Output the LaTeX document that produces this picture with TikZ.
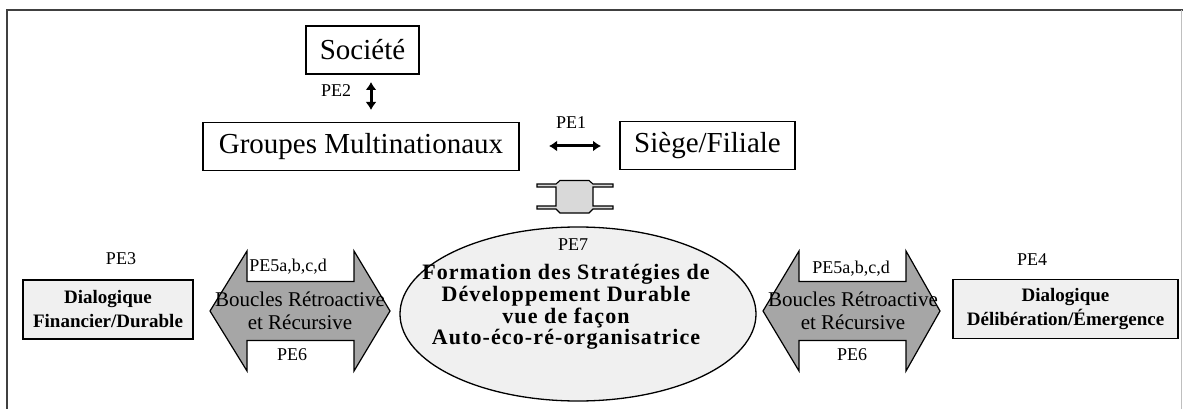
\documentclass[tikz,border=0pt]{standalone}
\usepackage{fontspec}
\setmainfont{Liberation Serif}
\usetikzlibrary{arrows.meta,shapes.geometric}
\begin{document}
\begin{tikzpicture}[x=1pt,y=-1pt,
  frame/.style={draw=black!75,line width=1.6pt},
  bigbox/.style={draw,line width=1.3pt,inner sep=0pt,minimum height=48pt,font=\fontsize{29}{32}\selectfont},
  dlgbox/.style={draw,line width=1.3pt,fill=black!6,inner sep=0pt,minimum height=59pt,align=center,font=\bfseries\fontsize{19}{24}\selectfont},
  tag/.style={inner sep=0pt,font=\fontsize{18}{20}\selectfont},
  loopshape/.style={draw,line width=1.2pt,fill=black!35},
  looptext/.style={inner sep=0pt,align=center,font=\fontsize{21}{23}\selectfont},
  biarrow/.style={line width=3pt,{Latex[length=8pt,width=11pt]}-{Latex[length=8pt,width=11pt]}},
]
\useasboundingbox (0,0) rectangle (1183,409);
\fill[white] (0,0) rectangle (1183,409);
% outer frame
\draw[frame] (7,409) -- (7,10) -- (1183,10);
\draw[black!25,line width=1pt] (1181.5,10) -- (1181.5,409);

% upper boxes
\node[bigbox,minimum width=113pt] (soc) at (362.5,50) {Société};
\node[bigbox,minimum width=316pt] (grp) at (361,146.5) {Groupes Multinationaux};
\node[bigbox,minimum width=175pt] (sf) at (707.5,145.5) {Siège/Filiale};

% PE2 link between Société and the groups
\coordinate (p2a) at (371,82);
\coordinate (p2b) at (371,110);
\draw[biarrow] (p2a) -- (p2b);
\node[tag] (pe2) at (336,91) {PE2};

% PE1 link between groups and head office / subsidiary
\coordinate (p1a) at (549,146);
\coordinate (p1b) at (601,146);
\draw[biarrow] (p1a) -- (p1b);
\node[tag] (pe1) at (571,123) {PE1};

% spool-shaped junction above the ellipse
\draw[line width=1.1pt,fill=black!15]
  (537,184) -- (556,184) -- (560,180.5) -- (589,180.5) -- (593,184) -- (613,184)
  -- (613,187) -- (593,187) -- (593,206) -- (613,206) -- (613,209) -- (593,209)
  -- (589,213) -- (560,213) -- (556,209) -- (537,209) -- (537,206) -- (556,206)
  -- (556,187) -- (537,187) -- cycle;

% central ellipse
\node[ellipse,draw,line width=1.3pt,fill=black!6,minimum width=356pt,minimum height=174pt,inner sep=0pt] (form) at (578,314) {};
\node[tag] (pe7) at (573,245) {PE7};
\node[inner sep=0pt,align=center,font=\bfseries\fontsize{22}{21.7}\selectfont\addfontfeature{LetterSpace=5}] (formtxt) at (566,307)
  {Formation des Stratégies de\\Développement Durable\\vue de façon\\Auto-éco-ré-organisatrice};

% dialogic boxes
\node[dlgbox,minimum width=170pt] (fin) at (108,309.5) {Dialogique\\Financier/Durable};
\node[tag] (pe3) at (121,259) {PE3};
\node[dlgbox,minimum width=225pt] (del) at (1065.5,309) {Dialogique\\Délibération/Émergence};
\node[tag] (pe4) at (1032,260) {PE4};

% left feedback double arrow
\draw[loopshape] (210,311) -- (247,251) -- (247,281.5) -- (354,281.5) -- (354,251)
  -- (390,311) -- (354,371) -- (354,340.5) -- (247,340.5) -- (247,371) -- cycle;
\node[looptext] (lpl) at (300,311) {Boucles Rétroactive\\et Récursive};
\node[tag] (pe5l) at (288,267) {PE5a,b,c,d};
\node[tag] (pe6l) at (292,355) {PE6};

% right feedback double arrow
\draw[loopshape] (763,311) -- (799,251) -- (799,281.5) -- (906,281.5) -- (906,251)
  -- (940,311) -- (906,371) -- (906,340.5) -- (799,340.5) -- (799,371) -- cycle;
\node[looptext] (lpr) at (853,311) {Boucles Rétroactive\\et Récursive};
\node[tag] (pe5r) at (851,269) {PE5a,b,c,d};
\node[tag] (pe6r) at (852,355) {PE6};
\end{tikzpicture}
\end{document}
